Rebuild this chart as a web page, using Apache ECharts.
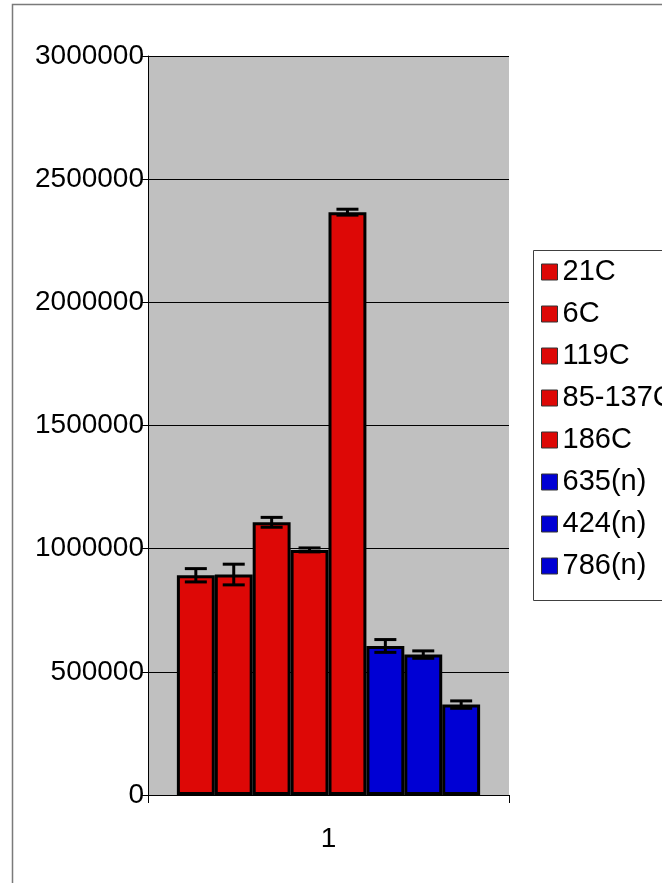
<!DOCTYPE html>
<html>
<head>
<meta charset="utf-8">
<script src="https://cdn.jsdelivr.net/npm/echarts@6/dist/echarts.min.js"></script>
<style>
html, body { margin: 0; padding: 0; background: #fff; }
#chart { width: 662px; height: 883px; }
</style>
</head>
<body>
<div id="chart"></div>
<script>
// data
var categories = ['1'];
var seriesNames = ['21C', '6C', '119C', '85-137C', '186C', '635(n)', '424(n)', '786(n)'];
var seriesValues = [892000, 895000, 1107000, 995000, 2366000, 605000, 570000, 367000];
var errorValues = [27000, 42000, 20000, 8000, 12000, 26000, 15000, 15000];
var seriesColors = ['#DD0806', '#DD0806', '#DD0806', '#DD0806', '#DD0806', '#0000D4', '#0000D4', '#0000D4'];
var yTicks = [0, 500000, 1000000, 1500000, 2000000, 2500000, 3000000];

var FONT = "'Liberation Sans', Arial, sans-serif";
var GAP = 0.16;

function renderErr(params, api) {
	var i = api.value(3);
	var v = api.value(1);
	var e = api.value(2);
	var base = api.coord([0, 0]);
	var band = api.size([1, 0])[0];
	var barW = band * (1 - GAP) / seriesNames.length;
	var x = base[0] + (i - (seriesNames.length - 1) / 2) * barW;
	var top = api.coord([0, v + e])[1];
	var bot = api.coord([0, v - e])[1];
	var cap = 11;
	var st = { stroke: '#000', lineWidth: 3 };
	return {
		type: 'group',
		children: [
			{ type: 'line', shape: { x1: x, y1: top, x2: x, y2: bot }, style: st },
			{ type: 'line', shape: { x1: x - cap, y1: top, x2: x + cap, y2: top }, style: st },
			{ type: 'line', shape: { x1: x - cap, y1: bot, x2: x + cap, y2: bot }, style: st }
		]
	};
}

var myChart = echarts.init(document.getElementById('chart'));

var series = seriesNames.map(function(name, i) {
	return {
		name: name,
		type: 'bar',
		barGap: '0%',
		barCategoryGap: (GAP * 100) + '%',
		itemStyle: { color: seriesColors[i], borderColor: '#000', borderWidth: 3 },
		emphasis: { disabled: true },
		data: [seriesValues[i]]
	};
});

series.push({
	name: 'err',
	type: 'custom',
	z: 5,
	renderItem: renderErr,
	data: seriesValues.map(function(v, i) { return [0, v, errorValues[i], i]; })
});

var option = {
	animation: false,
	backgroundColor: '#fff',
	textStyle: { fontFamily: FONT },
	graphic: [
		{ type: 'rect', shape: { x: 12.5, y: 4.5, width: 700, height: 900 }, style: { fill: 'none', stroke: '#7a7a7a', lineWidth: 1.5 }, z: 0 },
		{ type: 'rect', shape: { x: 533.5, y: 250.5, width: 200, height: 350 }, style: { fill: 'none', stroke: '#404040', lineWidth: 1 }, z: 10 }
	],
	grid: {
		left: 148,
		right: 153,
		top: 56,
		bottom: 88,
		show: true,
		backgroundColor: '#c0c0c0',
		borderWidth: 0
	},
	legend: {
		data: seriesNames,
		orient: 'vertical',
		left: 541,
		top: 257,
		padding: 0,
		itemWidth: 16,
		itemHeight: 16,
		itemGap: 12,
		icon: 'rect',
		itemStyle: { borderWidth: 1, borderColor: '#333' },
		textStyle: { fontFamily: FONT, fontSize: 29, lineHeight: 30, color: '#000' }
	},
	xAxis: {
		type: 'category',
		data: categories,
		axisLine: { lineStyle: { color: '#000', width: 1 } },
		axisTick: { show: true, length: 8, lineStyle: { color: '#000' } },
		axisLabel: { fontFamily: FONT, fontSize: 28, color: '#000', margin: 30 }
	},
	yAxis: {
		type: 'value',
		min: yTicks[0],
		max: yTicks[yTicks.length - 1],
		interval: yTicks[1] - yTicks[0],
		axisLine: { show: true, lineStyle: { color: '#000', width: 1 } },
		axisTick: { show: true, length: 6, lineStyle: { color: '#000' } },
		splitLine: { show: true, lineStyle: { color: '#000', width: 1 } },
		axisLabel: {
			fontFamily: FONT, fontSize: 28, color: '#000', margin: 4,
			formatter: function(v) { return String(v); }
		}
	},
	series: series
};

myChart.setOption(option);
</script>
</body>
</html>
